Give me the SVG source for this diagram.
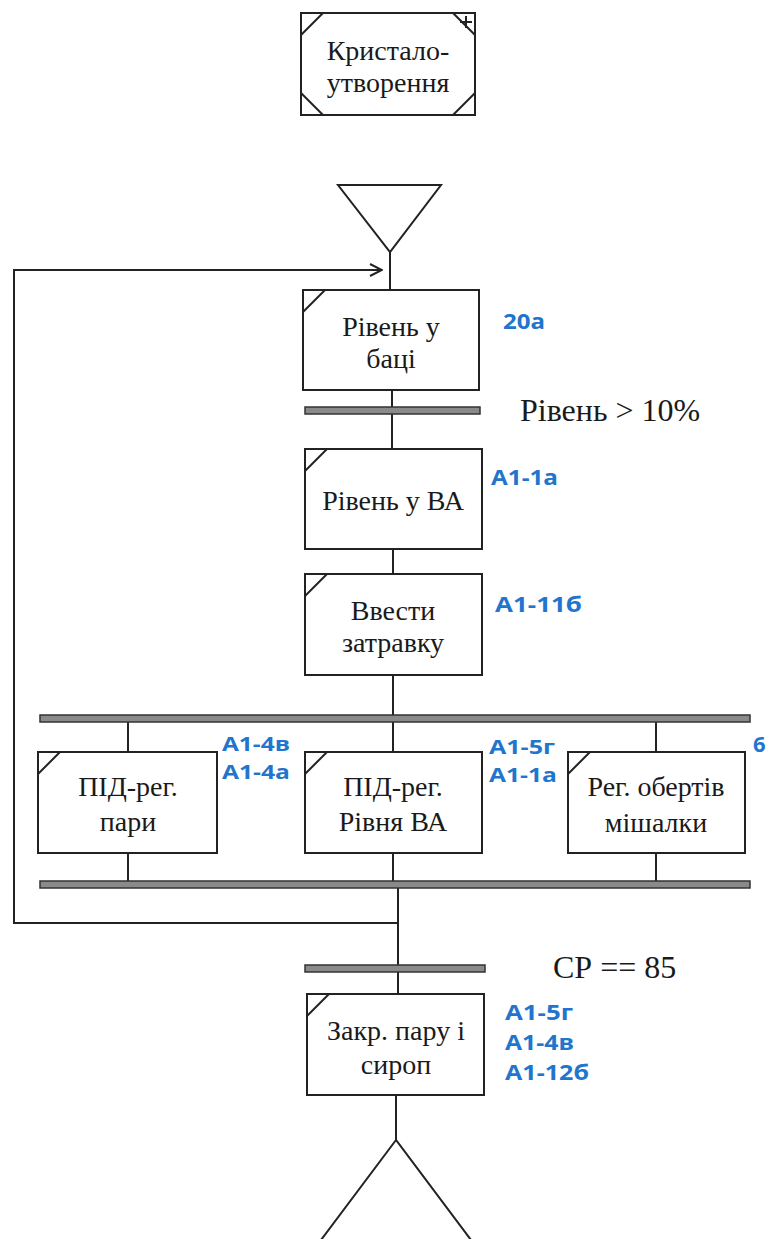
<svg xmlns="http://www.w3.org/2000/svg" width="766" height="1239" viewBox="0 0 766 1239">
<defs>
<style>
.box{fill:#fff;stroke:#222;stroke-width:2}
.ln{fill:none;stroke:#222;stroke-width:2}
.bar{fill:#8a8a8a;stroke:#333;stroke-width:1.5}
.t{font-family:"Liberation Serif",serif;font-size:28px;fill:#1a1a1a;text-anchor:middle}
.tr{font-family:"Liberation Serif",serif;font-size:32px;fill:#1a1a1a}
.lb{font-family:"Open Sans","Liberation Sans",sans-serif;font-size:22px;font-weight:bold;fill:#2275cc}
.ls{font-size:20px}
</style>
<marker id="oa" markerWidth="14" markerHeight="14" refX="13" refY="7" orient="auto" markerUnits="userSpaceOnUse">
<path d="M1,1 L13,7 L1,13" fill="none" stroke="#222" stroke-width="2"/>
</marker>
</defs>
<g id="connectors">
<line class="ln" x1="390" y1="252" x2="390" y2="290"/>
<polyline class="ln" points="398,923 14,923 14,270 382,270" marker-end="url(#oa)"/>
<line class="ln" x1="392" y1="390" x2="392" y2="449"/>
<line class="ln" x1="393" y1="549" x2="393" y2="574"/>
<line class="ln" x1="393" y1="675" x2="393" y2="718"/>
<line class="ln" x1="128" y1="718" x2="128" y2="752"/>
<line class="ln" x1="393" y1="718" x2="393" y2="752"/>
<line class="ln" x1="656" y1="718" x2="656" y2="752"/>
<line class="ln" x1="128" y1="853" x2="128" y2="885"/>
<line class="ln" x1="393" y1="853" x2="393" y2="885"/>
<line class="ln" x1="656" y1="853" x2="656" y2="885"/>
<line class="ln" x1="398" y1="885" x2="398" y2="994"/>
<line class="ln" x1="396" y1="1095" x2="396" y2="1140"/>
</g>
<g id="bars">
<rect class="bar" x="305" y="407" width="175" height="7"/>
<rect class="bar" x="40" y="715" width="710" height="7"/>
<rect class="bar" x="40" y="881" width="710" height="7"/>
<rect class="bar" x="305" y="965" width="180" height="7"/>
</g>
<g id="n-top">
<rect class="box" x="301" y="13" width="174" height="102" stroke-width="2.5"/>
<path class="ln" d="M301,35 L323,13 M453,13 L475,35 M301,93 L323,115 M453,115 L475,93"/>
<path class="ln" d="M466,16 V28 M460,22 H472" stroke-width="1.5"/>
<text class="t" x="388" y="60">Кристало-</text>
<text class="t" x="388" y="92">утворення</text>
</g>
<g id="n-start">
<polygon class="ln" points="338,185 441,185 390,252"/>
</g>
<g id="n-bak">
<rect class="box" x="303" y="290" width="176" height="100"/>
<path class="ln" d="M303,312 L325,290"/>
<text class="t" x="391" y="336">Рівень у</text>
<text class="t" x="391" y="368">баці</text>
<text class="lb" x="503" y="329" textLength="42" lengthAdjust="spacingAndGlyphs">20а</text>
</g>
<text class="tr" x="520" y="421">Рівень &gt; 10%</text>
<g id="n-va">
<rect class="box" x="305" y="449" width="177" height="100"/>
<path class="ln" d="M305,471 L327,449"/>
<text class="t" x="393" y="510">Рівень у ВА</text>
<text class="lb" x="491" y="485" textLength="67" lengthAdjust="spacingAndGlyphs">А1-1а</text>
</g>
<g id="n-zatr">
<rect class="box" x="305" y="574" width="177" height="101"/>
<path class="ln" d="M305,596 L327,574"/>
<text class="t" x="393" y="620">Ввести</text>
<text class="t" x="393" y="652">затравку</text>
<text class="lb" x="495" y="612" textLength="87" lengthAdjust="spacingAndGlyphs">А1-11б</text>
</g>
<g id="n-pid1">
<rect class="box" x="38" y="752" width="179" height="101"/>
<path class="ln" d="M38,774 L60,752"/>
<text class="t" x="128" y="796">ПІД-рег.</text>
<text class="t" x="128" y="831">пари</text>
<text class="lb ls" x="222" y="751" textLength="68" lengthAdjust="spacingAndGlyphs">А1-4в</text>
<text class="lb ls" x="222" y="779" textLength="68" lengthAdjust="spacingAndGlyphs">А1-4а</text>
</g>
<g id="n-pid2">
<rect class="box" x="305" y="752" width="177" height="101"/>
<path class="ln" d="M305,774 L327,752"/>
<text class="t" x="393" y="796">ПІД-рег.</text>
<text class="t" x="393" y="831">Рівня ВА</text>
<text class="lb ls" x="489" y="754" textLength="66" lengthAdjust="spacingAndGlyphs">А1-5г</text>
<text class="lb ls" x="489" y="782" textLength="68" lengthAdjust="spacingAndGlyphs">А1-1а</text>
</g>
<g id="n-mish">
<rect class="box" x="568" y="752" width="177" height="101"/>
<path class="ln" d="M568,774 L590,752"/>
<text class="t" x="656" y="796">Рег. обертів</text>
<text class="t" x="656" y="832">мішалки</text>
<text class="lb" x="753" y="752">6</text>
</g>
<text class="tr" x="553" y="978">СР == 85</text>
<g id="n-zakr">
<rect class="box" x="307" y="994" width="177" height="101"/>
<path class="ln" d="M307,1016 L329,994"/>
<text class="t" x="396" y="1040">Закр. пару і</text>
<text class="t" x="396" y="1074">сироп</text>
<text class="lb" x="505" y="1020" textLength="68" lengthAdjust="spacingAndGlyphs">А1-5г</text>
<text class="lb" x="505" y="1050" textLength="69" lengthAdjust="spacingAndGlyphs">А1-4в</text>
<text class="lb" x="505" y="1080" textLength="84" lengthAdjust="spacingAndGlyphs">А1-12б</text>
</g>
<g id="n-end">
<polygon class="ln" points="396,1140 318,1244 474,1244"/>
</g>
</svg>
